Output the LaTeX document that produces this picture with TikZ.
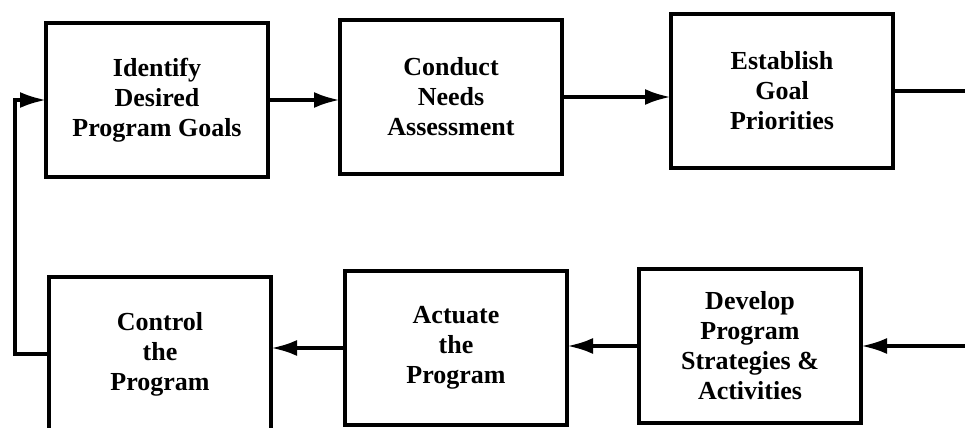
\documentclass[tikz,border=0pt]{standalone}
\usepackage{fontspec}
\setmainfont{Liberation Serif}
\usetikzlibrary{arrows.meta}

\begin{document}
\begin{tikzpicture}[x=0.5pt,y=-0.5pt,
  stepbox/.style={draw,line width=1.6pt,minimum width=111pt,minimum height=77pt,
    inner sep=0pt,outer sep=0pt,align=center,font=\bfseries\fontsize{13}{15}\selectfont},
  flow/.style={line width=2pt,-{Latex[length=13pt,width=8pt]}},
  link/.style={line width=1.7pt}]
\useasboundingbox (0,0) rectangle (965,428);
\node[stepbox] (goals) at (157,100) {Identify\\Desired\\Program Goals};
\node[stepbox] (needs) at (451,97) {Conduct\\Needs\\Assessment};
\node[stepbox] (prio) at (782,91) {Establish\\Goal\\Priorities};
\node[stepbox] (strat) at (750,346) {Develop\\Program\\Strategies \&\\Activities};
\node[stepbox] (act) at (456,348) {Actuate\\the\\Program};
\node[stepbox] (ctrl) at (160,354) {Control\\the\\Program};
\coordinate (rout) at (prio.east -| 970,0);
\coordinate (rin) at (strat.east -| 970,0);
\coordinate (lbot) at (ctrl.west -| 15,0);
\coordinate (ltop) at (goals.west -| 15,0);
\draw[flow] (goals.east) -- (goals.east -| needs.west);
\draw[flow] (needs.east) -- (needs.east -| prio.west);
\draw[link] (prio.east) -- (rout);
\draw[flow] (rin) -- (strat.east);
\draw[flow] (strat.west) -- (strat.west -| act.east);
\draw[flow] (act.west) -- (act.west -| ctrl.east);
\draw[flow,line width=1.7pt] (ctrl.west) -- (lbot) -- (ltop) -- (goals.west);
\end{tikzpicture}
\end{document}
